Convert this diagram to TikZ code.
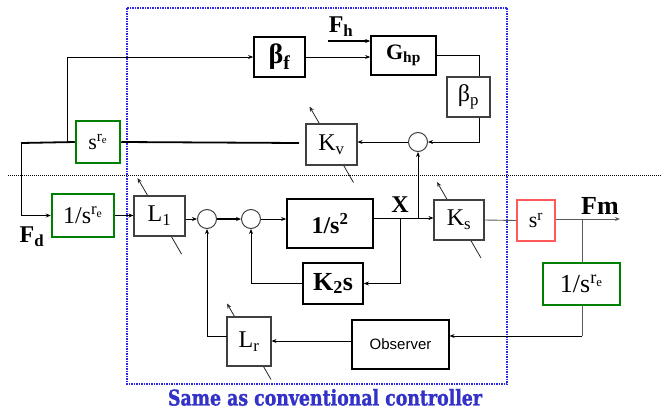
\documentclass[tikz,border=0pt]{standalone}
\usepackage{graphicx}
\usepackage{fontspec}
\setmainfont{Liberation Serif}
\newfontfamily\obsfont{Liberation Sans}
\newfontface\capfont[FakeBold=1.5]{DejaVu Serif Bold}
\usetikzlibrary{arrows.meta,calc,backgrounds}
\definecolor{boxgreen}{RGB}{0,128,0}
\definecolor{boxred}{RGB}{255,90,90}
\definecolor{frameblue}{RGB}{40,40,230}
\definecolor{textblue}{RGB}{50,50,200}
\definecolor{linegray}{RGB}{90,90,90}
\newcommand{\fsz}[1]{\fontsize{#1}{#1}\selectfont}
\begin{document}
\begin{tikzpicture}[x=1pt,y=-1pt,
 >={Stealth[length=5pt,width=4pt]},
 wire/.style={line width=0.9pt,black},
 arr/.style={wire,->},
 thickwire/.style={line width=1.8pt,black},
 boldbox/.style={draw=black,line width=1.7pt,fill=white,inner sep=0pt},
 lightbox/.style={draw=black!75,line width=1.1pt,fill=white,inner sep=0pt},
 greenbox/.style={draw=boxgreen,line width=2.5pt,fill=white,inner sep=0pt},
 redbox/.style={draw=boxred,line width=1.3pt,fill=white,inner sep=0pt},
 sumnode/.style={circle,draw=black!75,line width=1pt,minimum size=19pt,inner sep=0pt,fill=white},
 gain/.style={line width=0.8pt,black!85,->},
 lbl/.style={inner sep=0pt,font=\bfseries\fsz{24}},
]
\useasboundingbox (0,0) rectangle (661,410);

% blocks
\node[boldbox,minimum width=51pt,minimum height=40pt] (bf) at (279.5,57) {\fsz{28}\bfseries β\textsubscript{f}};
\node[boldbox,minimum width=65pt,minimum height=39pt] (ghp) at (403.5,55.5) {\fsz{22}\bfseries G\textsubscript{hp}};
\node[lightbox,minimum width=43pt,minimum height=40pt] (bp) at (468.5,97) {\fsz{24}β\textsubscript{p}};
\node[sumnode] (sum3) at (418,142) {};
\node[lightbox,minimum width=51pt,minimum height=41pt] (kv) at (331.5,144.5) {\fsz{24}K\textsubscript{v}};
\node[greenbox,minimum width=44pt,minimum height=42pt] (sre) at (98,142) {\fsz{22}s\textsuperscript{r\textsubscript{e}}};
\node[greenbox,minimum width=62pt,minimum height=43pt] (srel) at (83,215.5) {\fsz{24}1/s\textsuperscript{r\textsubscript{e}}};
\node[lightbox,minimum width=51pt,minimum height=40pt] (l1) at (159.5,216) {\fsz{24}L\textsubscript{1}};
\node[sumnode] (c1) at (207,219) {};
\node[sumnode] (c2) at (251,219) {};
\node[boldbox,minimum width=86pt,minimum height=49pt] (s2) at (330,223.5) {\fsz{24}\bfseries 1/s\textsuperscript{2}};
\node[boldbox,minimum width=60pt,minimum height=41pt] (k2) at (333,283.5) {\fsz{26}\bfseries K\textsubscript{2}s};
\node[lightbox,minimum width=50pt,minimum height=40pt] (ks) at (459,220) {\fsz{24}K\textsubscript{s}};
\node[redbox,minimum width=38pt,minimum height=41pt] (sr) at (536,220.5) {\fsz{22}s\textsuperscript{r}};
\node[greenbox,minimum width=77pt,minimum height=42pt] (srer) at (581.5,284) {\fsz{26}1/s\textsuperscript{r\textsubscript{e}}};
\node[lightbox,draw=black,minimum width=97pt,minimum height=49pt] (obs) at (400.5,344.5) {\obsfont\fsz{15}Observer};
\node[lightbox,minimum width=44pt,minimum height=49pt] (lr) at (249,341.5) {\fsz{24}L\textsubscript{r}};

% labels
\node[lbl] (fh) at (341,27) {F\textsubscript{h}};
\node[lbl] (fd) at (32,237) {F\textsubscript{d}};
\node[lbl] (xl) at (400,205) {X};
\node[lbl,font=\bfseries\fsz{26}] (fm) at (600,206) {Fm};
\node[inner sep=0pt,text=textblue,anchor=south] (cap) at (325,406) {\resizebox{314pt}{16.5pt}{\capfont Same as conventional controller}};

% background: separator, gain arrows
\begin{scope}[on background layer]
\coordinate (dl) at (8,175);
\coordinate (dr) at (661,175);
\draw[black,line width=0.8pt,dash pattern=on 1pt off 1pt] (dl) -- (dr);
\foreach \n in {l1,kv,ks,lr}
  \draw[gain] ($(\n.center)+(22,38)$) -- ($(\n.center)+(-22,-38)$);
\end{scope}
\coordinate (fa) at (127,8);
\coordinate (fb) at (507,384);
\draw[frameblue,line width=1.2pt,dash pattern=on 1.5pt off 1pt] (fa) rectangle (fb);

% wires
\coordinate (ja) at (21,143);
\coordinate (kvin) at (299,143);
\coordinate (jb) at (67,143);
\draw[thickwire] (ja) -- (sre.west);
\draw[thickwire] (sre.east) -- (kvin);
\draw[arr] (ja) |- (srel.west);
\draw[arr] (jb) |- (bf.west);
\draw[arr] (bf.east) -- (bf.east -| ghp.west);
\coordinate (fhs) at (328,41);
\draw[arr,line width=1.6pt] (fhs) -- (fhs -| ghp.west);
\coordinate (gp) at (479,56);
\draw[wire] (ghp.east) -| (gp |- bp.north);
\draw[arr] (gp |- bp.south) |- (sum3.east);
\draw[arr] (sum3.west) -- (sum3.west -| kv.east);
\draw[arr] (srel.east) -- (srel.east -| l1.west);
\draw[arr] (l1.east |- c1.west) -- (c1.west);
\draw[arr,line width=1.6pt] (c1.east) -- (c2.west);
\draw[arr] (c2.east) -- (c2.east -| s2.west);
\coordinate (xj) at (400,218);
\coordinate (xk) at (418,218);
\draw[arr] (s2.east |- xj) -- (xj -| ks.west);
\draw[arr] (xj) |- (k2.east);
\draw[arr] (k2.west) -| (c2.south);
\draw[arr] (xk) -- (sum3.south);
\draw[wire,linegray] (ks.east) -- (sr.west);
\coordinate (fmend) at (620,219);
\draw[arr,linegray] (sr.east |- fmend) -- (fmend);
\coordinate (fmj) at (582,219);
\draw[wire,linegray] (fmj) -- (fmj |- srer.north);
\coordinate (oj) at (582,336);
\draw[wire,linegray] (oj |- srer.south) -- (oj);
\draw[arr] (oj) -- (oj -| obs.east);
\coordinate (ol) at (352,341);
\draw[arr] (ol) -- (ol -| lr.east);
\coordinate (lj) at (227,336);
\draw[arr] (lj) -| (c1.south);
\end{tikzpicture}
\end{document}
